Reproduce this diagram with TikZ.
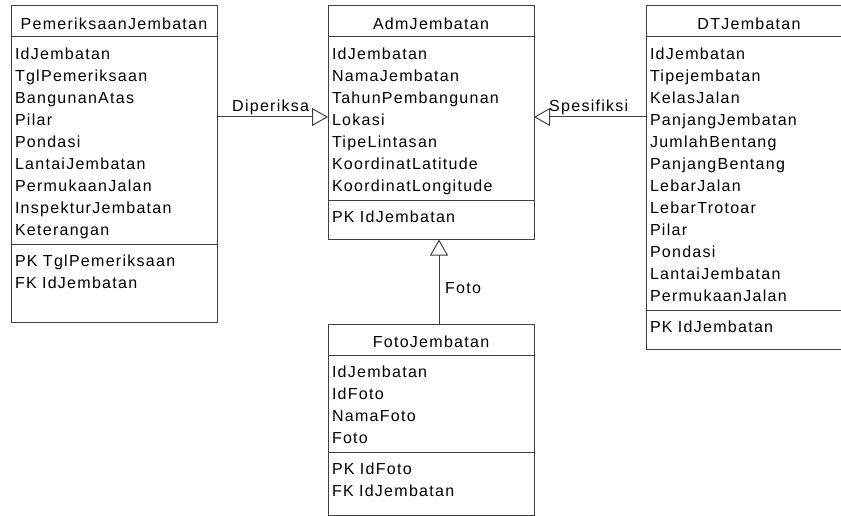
\documentclass[tikz,border=0pt]{standalone}
\usepackage{fontspec}
\setmainfont{Liberation Sans}[LetterSpace=8]
\usetikzlibrary{shapes.multipart,arrows.meta}

\newcommand{\ttl}{\rule[-3pt]{0pt}{22pt}}
\newcommand{\fst}{\rule[-4pt]{0pt}{22pt}}
\newcommand{\lst}[1]{\rule[-#1pt]{0pt}{#1pt}}

\begin{document}
\begin{tikzpicture}[x=1pt,y=-1pt,
    tabel/.style={draw=black!75, line width=1pt, rectangle split, rectangle split parts=3,
        text width=198pt, inner xsep=4pt, inner ysep=4pt, outer sep=0pt,
        anchor=north west, font=\fontsize{16}{22}\selectfont, align=left},
    relasi/.style={draw=black!75, line width=1pt, -{Triangle[open, length=16pt, width=18pt]}},
    ket/.style={font=\fontsize{16}{22}\selectfont, inner sep=0pt, anchor=base west}]
                        \useasboundingbox (0,0) rectangle (841,516);
                        \clip (0,0) rectangle (841,516);

                        % PemeriksaanJembatan
                        \node[tabel] (pem) at (11,6) {{\centering\ttl PemeriksaanJembatan\par}
                            \nodepart{second}\fst IdJembatan\\TglPemeriksaan\\BangunanAtas\\Pilar\\Pondasi\\LantaiJembatan\\PermukaanJalan\\InspekturJembatan\\Keterangan\lst{4}
                            \nodepart{third}\fst PK TglPemeriksaan\\FK IdJembatan\lst{29.5}};

                        % AdmJembatan
                        \node[tabel] (adm) at (328,6) {{\centering\ttl AdmJembatan\par}
                            \nodepart{second}\fst IdJembatan\\NamaJembatan\\TahunPembangunan\\Lokasi\\TipeLintasan\\KoordinatLatitude\\KoordinatLongitude\lst{4}
                            \nodepart{third}\fst PK IdJembatan\lst{12.5}};

                        % DTJembatan
                        \node[tabel] (dt) at (646,6) {{\centering\ttl DTJembatan\par}
                            \nodepart{second}\fst IdJembatan\\Tipejembatan\\KelasJalan\\PanjangJembatan\\JumlahBentang\\PanjangBentang\\LebarJalan\\LebarTrotoar\\Pilar\\Pondasi\\LantaiJembatan\\PermukaanJalan\lst{4}
                            \nodepart{third}\fst PK IdJembatan\lst{12.5}};

                        % FotoJembatan
                        \node[tabel] (foto) at (328,324) {{\centering\ttl FotoJembatan\par}
                            \nodepart{second}\fst IdJembatan\\IdFoto\\NamaFoto\\Foto\lst{4}
                            \nodepart{third}\fst PK IdFoto\\FK IdJembatan\lst{14.5}};

                        % relasi
                        \coordinate (lnk) at (0,117);
                        \coordinate (fx) at (439,0);
                        \draw[relasi] (pem.east |- lnk) -- (adm.west |- lnk);
                        \draw[relasi] (dt.west |- lnk) -- (adm.east |- lnk);
                        \draw[relasi] (foto.north -| fx) -- (adm.south -| fx);

                        \node[ket] (diperiksa) at (232,112) {Diperiksa};
                        \node[ket] (spesifiksi) at (549,112) {Spesifiksi};
                        \node[ket] (fotorel) at (445,293) {Foto};
                    \end{tikzpicture}
\end{document}
